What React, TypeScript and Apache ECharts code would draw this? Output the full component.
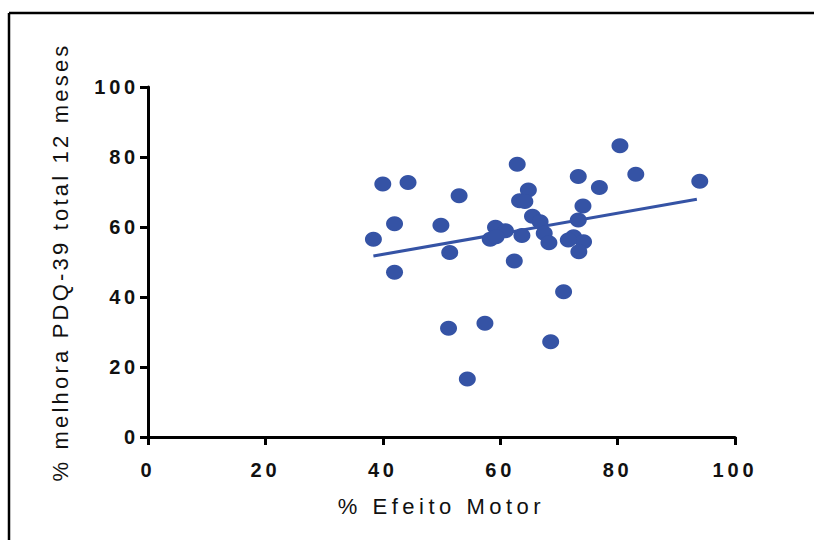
import React, { useEffect, useRef } from "react";
import * as echarts from "echarts";

// % Efeito Motor (x) and % melhora PDQ-39 total 12 meses (y)
const efeitoMotor = [
  40.0, 44.3, 53.0, 62.9, 64.8, 63.3, 64.2, 42.0, 49.9, 38.4,
  42.0, 51.4, 59.2, 60.9, 58.3, 59.3, 63.7, 65.5, 66.8, 67.5,
  68.3, 62.4, 51.2, 57.4, 54.4, 68.6, 80.4, 73.3, 83.1, 76.9,
  94.0, 74.1, 73.3, 72.5, 74.2, 73.4, 71.6, 70.8,
];
const melhoraPDQ = [
  72.3, 72.7, 68.9, 77.9, 70.6, 67.5, 67.3, 60.9, 60.5, 56.5,
  47.1, 52.7, 59.9, 58.9, 56.5, 57.2, 57.6, 63.1, 61.5, 58.2,
  55.5, 50.3, 31.1, 32.5, 16.6, 27.2, 83.2, 74.4, 75.1, 71.3,
  73.1, 66.0, 62.0, 57.2, 55.8, 52.9, 56.3, 41.5,
];
// regression line endpoints as drawn
const fitX = [38.4, 93.5];
const fitY = [51.7, 67.9];

const xTicks = [0, 20, 40, 60, 80, 100];
const yTicks = [0, 20, 40, 60, 80, 100];

const BLUE = "#3553a5";
const FONT = "'Liberation Sans', Arial, sans-serif";

export default function App() {
  const ref = useRef<HTMLDivElement>(null);
  useEffect(() => {
    if (!ref.current) return;
    const chart = echarts.init(ref.current, null, { renderer: "svg" });
    const points = efeitoMotor.map((x, i) => [x, melhoraPDQ[i]]);
    const fit = fitX.map((x, i) => [x, fitY[i]]);
    const axisCommon = {
      type: "value",
      min: xTicks[0],
      max: xTicks[xTicks.length - 1],
      interval: 20,
      axisLine: { show: true, lineStyle: { color: "#000", width: 3 } },
      axisTick: { show: true, length: 8, lineStyle: { color: "#000", width: 3 } },
      splitLine: { show: false },
    };
    chart.setOption({
      animation: false,
      backgroundColor: "#fff",
      grid: { left: 148, right: 79, top: 87, bottom: 103, containLabel: false },
      xAxis: {
        ...axisCommon,
        name: "% Efeito Motor",
        nameLocation: "middle",
        nameGap: 58,
        nameTextStyle: { fontFamily: FONT, fontSize: 22, color: "#111" },
        axisLabel: {
          margin: 23,
          fontFamily: FONT,
          fontSize: 20,
          fontWeight: "bold",
          color: "#111",
        },
      },
      yAxis: {
        ...axisCommon,
        min: yTicks[0],
        max: yTicks[yTicks.length - 1],
        name: "% melhora PDQ-39 total 12 meses",
        nameLocation: "middle",
        nameRotate: 90,
        nameGap: 77,
        nameTextStyle: { fontFamily: FONT, fontSize: 22, color: "#111" },
        axisLabel: {
          margin: 9,
          fontFamily: FONT,
          fontSize: 20,
          fontWeight: "bold",
          color: "#111",
        },
      },
      graphic: [
        {
          type: "line",
          shape: { x1: 9, y1: 13, x2: 814, y2: 13 },
          style: { stroke: "#000", lineWidth: 2.5 },
        },
        {
          type: "line",
          shape: { x1: 9, y1: 13, x2: 9, y2: 540 },
          style: { stroke: "#000", lineWidth: 2.5 },
        },
      ],
      series: [
        {
          type: "scatter",
          data: points,
          symbol: "circle",
          symbolSize: [17, 15],
          itemStyle: { color: BLUE, opacity: 1 },
          z: 3,
        },
        {
          type: "line",
          data: fit,
          showSymbol: false,
          symbol: "none",
          lineStyle: { color: BLUE, width: 3 },
          z: 2,
        },
      ],
    });
    const svg = ref.current.querySelector("svg");
    if (svg) {
      svg.querySelectorAll("text").forEach((t) => {
        const s = t.textContent || "";
        if (s.startsWith("%")) t.setAttribute("letter-spacing", s.includes("Motor") ? "4.5" : "3.2");
        else t.setAttribute("letter-spacing", "3.8");
      });
    }
    return () => chart.dispose();
  }, []);
  return (
    <div
      ref={ref}
      style={{ position: "absolute", left: 0, top: 0, width: 814, height: 540, background: "#fff" }}
    />
  );
}
